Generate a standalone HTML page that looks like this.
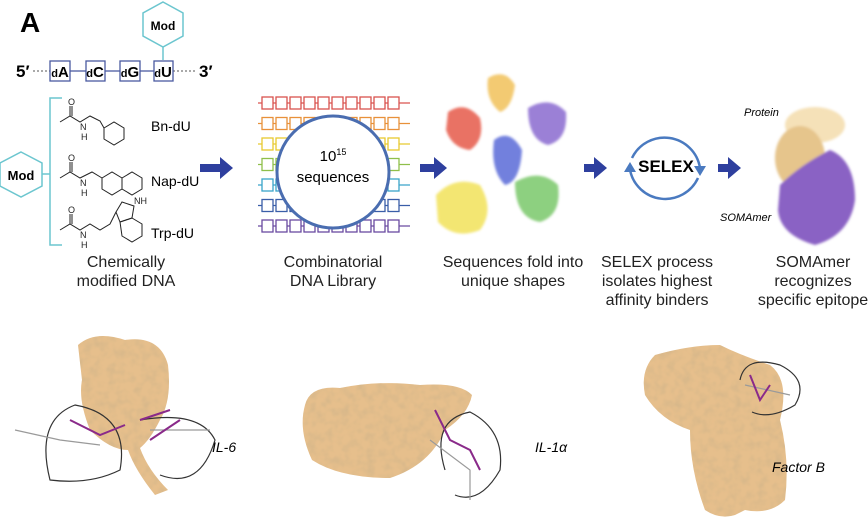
<!DOCTYPE html>
<html><head><style>
html,body{margin:0;padding:0;background:#fff;}
svg{display:block;}
text{font-family:"Liberation Sans",sans-serif;}
</style></head><body>
<svg width="868" height="523" viewBox="0 0 868 523" xmlns="http://www.w3.org/2000/svg">
<defs>
<filter id="b" x="-20%" y="-20%" width="140%" height="140%"><feGaussianBlur stdDeviation="1.2"/></filter>
<filter id="t" x="-10%" y="-10%" width="120%" height="120%"><feTurbulence type="fractalNoise" baseFrequency="0.12" numOctaves="2" result="n"/><feColorMatrix in="n" type="matrix" values="0 0 0 0 0.55  0 0 0 0 0.42  0 0 0 0 0.25  0 0 0 0.9 -0.35" result="s"/><feComposite in="s" in2="SourceGraphic" operator="in" result="c"/><feMerge><feMergeNode in="SourceGraphic"/><feMergeNode in="c"/></feMerge></filter>
</defs>
<text x="20" y="32" font-size="28" font-weight="bold">A</text>
<polygon points="163,2 183,13 183,36 163,47 143,36 143,13" fill="#fff" stroke="#6cc6cf" stroke-width="1.5"/>
<text x="163" y="30" font-size="12" font-weight="bold" text-anchor="middle">Mod</text>
<line x1="163" y1="47" x2="163" y2="60" stroke="#6cc6cf" stroke-width="1.5"/>
<text x="16" y="77" font-size="17" font-weight="bold">5′</text>
<line x1="33" y1="71" x2="50" y2="71" stroke="#555" stroke-dasharray="2,2"/>
<line x1="173" y1="71" x2="197" y2="71" stroke="#555" stroke-dasharray="2,2"/>
<text x="199" y="77" font-size="17" font-weight="bold">3′</text>
<g stroke="#4a5aa0" stroke-width="1.3" fill="#fff">
<line x1="70" y1="71" x2="86" y2="71"/><line x1="105" y1="71" x2="120" y2="71"/><line x1="140" y1="71" x2="154" y2="71"/>
<rect x="50" y="61" width="20" height="20"/><rect x="86" y="61" width="19" height="20"/><rect x="120" y="61" width="20" height="20"/><rect x="154" y="61" width="19" height="20"/>
</g>
<g font-weight="bold" font-size="15" text-anchor="middle">
<text x="60" y="77"><tspan font-size="11">d</tspan>A</text>
<text x="95" y="77"><tspan font-size="11">d</tspan>C</text>
<text x="130" y="77"><tspan font-size="11">d</tspan>G</text>
<text x="163" y="77"><tspan font-size="11">d</tspan>U</text>
</g>
<g stroke="#6cc6cf" stroke-width="1.5" fill="none">
<polyline points="62,98 50,98 50,245 62,245"/>
<line x1="42" y1="174" x2="50" y2="174"/>
<polygon points="21,152 42,163 42,186 21,197 0,186 0,163" fill="#fff"/>
</g>
<text x="21" y="180" font-size="13" font-weight="bold" text-anchor="middle">Mod</text>
<g stroke="#222" stroke-width="1" fill="none">
<polyline points="60,122 70,116 80,122 90,116 100,121 104,128"/><line x1="70" y1="116" x2="70" y2="106"/><line x1="72" y1="116" x2="72" y2="106"/>
<polygon points="104,128 114,122 124,128 124,139 114,145 104,139"/>
<polyline points="60,178 70,172 80,178 92,172 102,178"/><line x1="70" y1="172" x2="70" y2="162"/><line x1="72" y1="172" x2="72" y2="162"/>
<polygon points="102,178 112,172 122,178 122,189 112,195 102,189"/><polygon points="122,178 132,172 142,178 142,189 132,195 122,189"/>
<polyline points="60,230 70,224 80,230 90,224 100,230 110,224 116,212"/><line x1="70" y1="224" x2="70" y2="214"/><line x1="72" y1="224" x2="72" y2="214"/>
<polygon points="116,212 122,202 134,206 132,218 120,222"/><polygon points="132,218 142,224 142,236 132,242 122,236 120,222"/>
</g>
<g font-size="9" fill="#222"><text x="68" y="105">O</text><text x="80" y="130">N</text><text x="81" y="140">H</text>
<text x="68" y="161">O</text><text x="80" y="186">N</text><text x="81" y="196">H</text>
<text x="68" y="213">O</text><text x="80" y="238">N</text><text x="81" y="248">H</text><text x="134" y="204">NH</text></g>
<g font-size="14"><text x="151" y="131">Bn-dU</text><text x="151" y="186">Nap-dU</text><text x="151" y="238">Trp-dU</text></g>
<g fill="#2e3f9e">
<path d="M200,164 h20 v-7 l13,11 l-13,11 v-7 h-20z"/>
<path d="M420,164 h14 v-7 l13,11 l-13,11 v-7 h-14z"/>
<path d="M584,164 h10 v-7 l13,11 l-13,11 v-7 h-10z"/>
<path d="M718,164 h10 v-7 l13,11 l-13,11 v-7 h-10z"/>
</g>
<g fill="#fff" stroke-width="1.3">
<g stroke="#d9534f"><line x1="258" y1="103" x2="410" y2="103"/><g id="r"><rect x="262" y="97" width="11" height="12"/><rect x="276" y="97" width="11" height="12"/><rect x="290" y="97" width="11" height="12"/><rect x="304" y="97" width="11" height="12"/><rect x="318" y="97" width="11" height="12"/><rect x="332" y="97" width="11" height="12"/><rect x="346" y="97" width="11" height="12"/><rect x="360" y="97" width="11" height="12"/><rect x="374" y="97" width="11" height="12"/><rect x="388" y="97" width="11" height="12"/></g></g>
<g stroke="#e8913a" transform="translate(0,20.5)"><line x1="258" y1="103" x2="410" y2="103"/><use href="#r"/></g>
<g stroke="#e8c930" transform="translate(0,41)"><line x1="258" y1="103" x2="410" y2="103"/><use href="#r"/></g>
<g stroke="#8fbf4a" transform="translate(0,61.5)"><line x1="258" y1="103" x2="410" y2="103"/><use href="#r"/></g>
<g stroke="#3aa5c9" transform="translate(0,82)"><line x1="258" y1="103" x2="410" y2="103"/><use href="#r"/></g>
<g stroke="#3a5ea8" transform="translate(0,102.5)"><line x1="258" y1="103" x2="410" y2="103"/><use href="#r"/></g>
<g stroke="#6a4aa0" transform="translate(0,123)"><line x1="258" y1="103" x2="410" y2="103"/><use href="#r"/></g>
</g>
<circle cx="333" cy="172" r="56" fill="#fff" stroke="#4a6db0" stroke-width="3"/>
<text x="333" y="161" font-size="15" text-anchor="middle">10<tspan font-size="9" dy="-6">15</tspan></text>
<text x="333" y="182" font-size="15" text-anchor="middle">sequences</text>
<g filter="url(#b)" opacity="0.85">
<path d="M448,112 Q465,100 480,118 Q485,140 470,150 Q452,148 446,130z" fill="#e65a4a"/>
<path d="M488,78 Q505,68 515,85 Q512,108 500,112 Q485,100 488,78z" fill="#f1c15a"/>
<path d="M528,108 Q550,95 566,112 Q568,140 548,145 Q528,140 528,108z" fill="#8a6ad0"/>
<path d="M494,140 Q510,128 522,150 Q520,182 505,185 Q490,170 494,140z" fill="#5a6ad8"/>
<path d="M436,195 Q455,175 480,185 Q495,210 480,230 Q455,240 438,222z" fill="#f2e25a"/>
<path d="M515,182 Q540,168 558,185 Q562,215 540,222 Q515,218 515,182z" fill="#7ac86a"/>
</g>
<g fill="none" stroke="#4a7ac0" stroke-width="2.5">
<path d="M632,158 A36,36 0 0 1 700,168"/>
<path d="M698,178 A36,36 0 0 1 630,170"/>
</g>
<polygon points="694,166 706,166 700,176" fill="#4a7ac0"/>
<polygon points="624,172 636,172 630,162" fill="#4a7ac0"/>
<text x="666" y="172" font-size="17" font-weight="bold" text-anchor="middle">SELEX</text>
<g filter="url(#b)">
<ellipse cx="815" cy="125" rx="30" ry="18" fill="#f5e1b8"/>
<ellipse cx="800" cy="158" rx="25" ry="32" fill="#e6c58c"/>
<path d="M780,185 Q800,165 830,150 Q855,160 855,200 Q850,235 815,245 Q780,235 778,210z" fill="#8a62c4"/>
</g>
<text x="744" y="116" font-size="11" font-style="italic">Protein</text>
<text x="720" y="221" font-size="11" font-style="italic">SOMAmer</text>
<g font-size="16" text-anchor="middle" fill="#222">
<text x="126" y="267">Chemically</text><text x="126" y="286">modified DNA</text>
<text x="333" y="267">Combinatorial</text><text x="333" y="286">DNA Library</text>
<text x="513" y="267">Sequences fold into</text><text x="513" y="286">unique shapes</text>
<text x="657" y="267">SELEX process</text><text x="657" y="286">isolates highest</text><text x="657" y="305">affinity binders</text>
<text x="813" y="267">SOMAmer</text><text x="813" y="286">recognizes</text><text x="813" y="305">specific epitope</text>
</g>
<g fill="#e6bf8c" filter="url(#t)">
<path d="M78,345 Q95,330 125,340 Q160,335 168,365 Q172,400 160,420 Q150,440 140,448 Q148,470 168,490 L155,495 Q135,470 128,450 Q110,450 90,430 Q78,400 82,380z"/>
<path d="M305,405 Q310,385 340,388 Q380,380 420,385 Q460,382 472,395 Q468,415 445,430 Q430,465 390,478 Q340,478 312,460 Q298,430 305,405z"/>
<path d="M655,355 Q690,345 720,345 Q740,355 770,365 Q790,380 780,420 Q790,460 785,500 Q770,515 745,510 L735,515 Q720,520 705,510 Q690,470 690,430 Q660,420 645,395 Q640,370 655,355z"/>
</g>
<g fill="none" stroke-width="1.2">
<g stroke="#333"><path d="M50,480 Q35,420 75,405 Q130,415 120,470 Q90,485 50,480z"/><path d="M140,420 Q200,410 215,440 Q200,490 160,475"/>
<path d="M445,470 Q430,420 470,412 Q505,430 500,470 Q480,505 455,495"/>
<path d="M740,380 Q745,355 780,365 Q810,380 795,405 Q770,420 752,412"/></g>
<g stroke="#9a9a9a"><path d="M15,430 L60,440 L100,445 M150,430 L210,430"/><path d="M430,440 L470,470 L470,500"/><path d="M745,385 L790,395"/></g>
<g stroke="#8a2a8a" stroke-width="2"><path d="M70,420 L100,435 L125,425 M140,420 L170,410 M150,440 L180,420"/><path d="M435,410 L450,440 L470,450 L480,470"/><path d="M750,375 L760,400 L770,385"/></g>
</g>
<g font-size="14" font-style="italic"><text x="212" y="452">IL-6</text><text x="535" y="452">IL-1α</text><text x="772" y="472">Factor B</text></g>
</svg>
</body></html>
